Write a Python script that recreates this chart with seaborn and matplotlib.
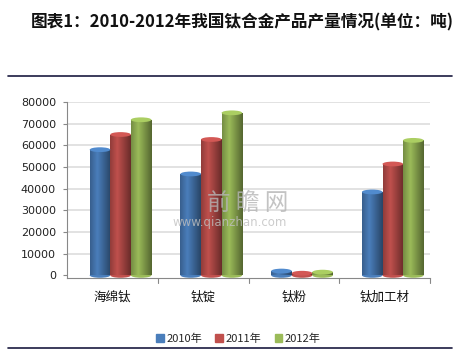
import numpy as np
import pandas as pd
import matplotlib
matplotlib.use('Agg')
import matplotlib.pyplot as plt
import seaborn as sns
from matplotlib.patches import Ellipse
from matplotlib.lines import Line2D

# Data (tonnes)
products = ['海绵钛', '钛锭', '钛粉', '钛加工材']
years = ['2010年', '2011年', '2012年']
output_2010 = [58000, 46800, 2000, 38500]
output_2011 = [65000, 62700, 1000, 51400]
output_2012 = [71800, 75000, 1500, 62300]
yticks = [0, 10000, 20000, 30000, 40000, 50000, 60000, 70000, 80000]

colors = ['#4a7ebb', '#c0504d', '#9bbb59']

df = pd.DataFrame({
    'product': products * 3,
    'year': [years[0]] * 4 + [years[1]] * 4 + [years[2]] * 4,
    'value': output_2010 + output_2011 + output_2012,
})

sns.set_style('white')
plt.rcParams['font.family'] = ['Noto Sans CJK SC', 'DejaVu Sans']

fig = plt.figure(figsize=(4.72, 3.58), dpi=100)
ax = fig.add_axes([0.142, 0.2235, 0.769, 0.4916])

sns.barplot(data=df, x='product', y='value', hue='year', palette=colors,
            width=0.68, saturation=1, ax=ax, legend=False, zorder=3)

# cylinder look: shift back a little (3D depth), shade, add elliptical caps
depth = 0.09
for patch in ax.patches:
    patch.set_x(patch.get_x() + depth)
    x0 = patch.get_x()
    w = patch.get_width()
    h = patch.get_height()
    fc = patch.get_facecolor()
    patch.set_edgecolor('none')
    grad = np.linspace(0, 1, 50)
    shade = 1 - 0.35 * np.abs(grad - 0.35) * 2
    img = np.zeros((1, 50, 4))
    for i in range(3):
        img[0, :, i] = np.clip(np.array(fc[i]) * shade, 0, 1)
    img[0, :, 3] = 1
    im = ax.imshow(img, extent=[x0, x0 + w, 0, h], aspect='auto', zorder=3.5,
                   interpolation='bilinear')
    im.set_clip_path(patch)
    top = Ellipse((x0 + w / 2, h), w, 2200,
                  facecolor=tuple(min(1, c * 1.1) for c in fc[:3]),
                  edgecolor='none', zorder=4)
    ax.add_patch(top)
    bot = Ellipse((x0 + w / 2, 0), w, 2200, facecolor=fc, edgecolor='none', zorder=3.2)
    ax.add_patch(bot)

ax.set_xlim(-0.5, 3.5)
ax.set_ylim(-1200, 80000)
ax.set_yticks(yticks)
ax.set_yticklabels([str(v) for v in yticks], fontsize=8, color='#222222',
                   family='DejaVu Sans')
ax.tick_params(axis='y', length=3, color='#888888', pad=5, left=True)
ax.set_xticks(range(4))
ax.set_xticklabels(products, fontsize=9, color='#111111')
ax.tick_params(axis='x', length=0, pad=9)
for xb in [0.5, 1.5, 2.5, 3.5]:
    ax.plot([xb, xb], [-1200, -3500], color='#888888', lw=0.8, clip_on=False)
ax.set_xlabel('')
ax.set_ylabel('')
for v in yticks[1:]:
    ax.axhline(v, color='#dddddd', lw=1.2, zorder=1)
for s in ['top', 'right']:
    ax.spines[s].set_visible(False)
ax.spines['left'].set_color('#888888')
ax.spines['bottom'].set_color('#888888')
ax.spines['left'].set_linewidth(0.8)
ax.spines['bottom'].set_linewidth(0.8)

# watermark
fig.text(0.525, 0.432, '前 瞻 网', fontsize=17, color='#b5b5b5', ha='center',
         va='center', alpha=0.8, zorder=10)
fig.text(0.487, 0.378, 'www.qianzhan.com', fontsize=8.5, color='#c0c0c0',
         ha='center', va='center', family='DejaVu Sans', alpha=0.8, zorder=10)

fig.text(0.513, 0.938, '图表1：2010-2012年我国钛合金产品产量情况(单位：吨)',
         fontsize=12, fontweight='bold', ha='center', va='center', color='#111111')

fig.add_artist(Line2D([0.017, 0.958], [0.788, 0.788], color='#1a1a40', lw=1.2))
fig.add_artist(Line2D([0.017, 0.958], [0.027, 0.027], color='#1a1a40', lw=1.2))

handles = [plt.Rectangle((0, 0), 1, 1, color=c) for c in colors]
fig.legend(handles, years, loc='center', bbox_to_anchor=(0.505, 0.053), ncol=3,
           frameon=False, fontsize=8, handlelength=0.7, handleheight=0.7,
           handletextpad=0.2, columnspacing=1.2)

fig.savefig('out.png', dpi=100)
